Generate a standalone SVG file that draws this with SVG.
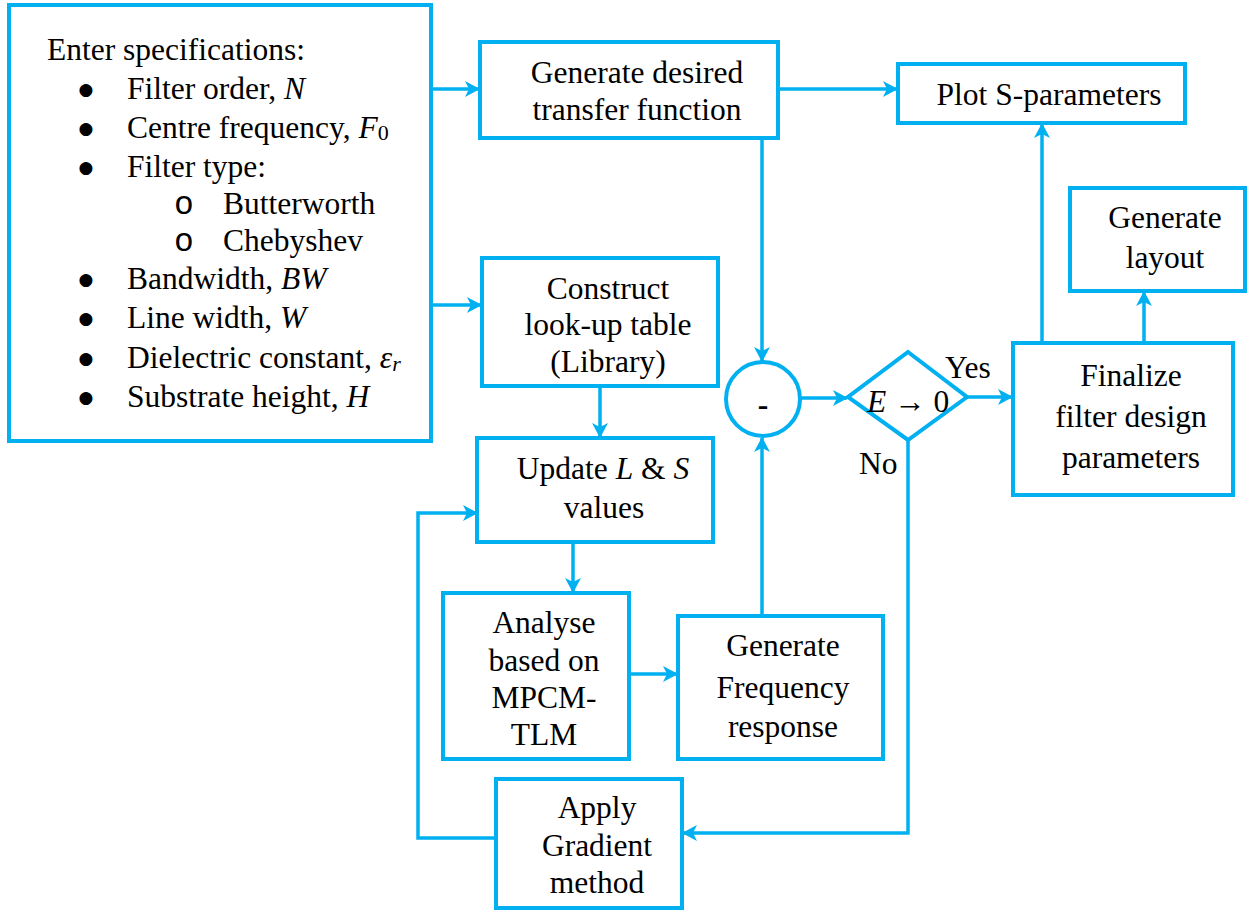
<svg xmlns="http://www.w3.org/2000/svg" width="1252" height="912" viewBox="0 0 1252 912" font-family="'Liberation Serif', 'DejaVu Serif', serif">
<style>
.box{fill:#fff;stroke:#00B0F0;stroke-width:4}
.ln{fill:none;stroke:#00B0F0;stroke-width:3.5}
.arr{marker-end:url(#ah)}
text{font-family:'Liberation Serif','DejaVu Serif',serif;font-size:31.5px;fill:#000}
.c{text-anchor:middle}
.i{font-style:italic}
.b{font-family:'DejaVu Sans',sans-serif;font-size:17px}
.o{font-family:'Liberation Mono','DejaVu Sans Mono',monospace;font-size:33px}
</style>
<defs>
<marker id="ah" markerUnits="userSpaceOnUse" markerWidth="15" markerHeight="16" viewBox="0 0 15 16" refX="14" refY="8" orient="auto">
<path d="M0,0 L15,8 L0,16 L4,8 z" fill="#00B0F0"/>
</marker>
</defs>
<rect width="1252" height="912" fill="#fff"/>
<g id="connectors">
<path class="ln arr" d="M431,89 H479"/>
<path class="ln arr" d="M431,305 H481"/>
<path class="ln arr" d="M778,89 H897"/>
<path class="ln arr" d="M762,138 V361"/>
<path class="ln arr" d="M600,386 V437"/>
<path class="ln arr" d="M573,542 V592"/>
<path class="ln arr" d="M629,674 H677"/>
<path class="ln arr" d="M762,616 V438"/>
<path class="ln arr" d="M800,398 H847"/>
<path class="ln arr" d="M967,397 H1012"/>
<path class="ln arr" d="M908,440 V833 H683"/>
<path class="ln arr" d="M496,838 H418 V513 H477"/>
<path class="ln arr" d="M1042,343 V124"/>
<path class="ln arr" d="M1144,343 V292"/>
</g>
<g id="specs">
<rect class="box" x="9" y="5" width="422" height="436"/>
<text x="47" y="60">Enter specifications:</text>
<text x="86" y="95" class="c b">●</text><text x="127" y="99">Filter order, <tspan class="i">N</tspan></text>
<text x="86" y="134" class="c b">●</text><text x="127" y="138">Centre frequency, <tspan class="i">F</tspan><tspan font-size="22" dy="2">0</tspan></text>
<text x="86" y="173" class="c b">●</text><text x="127" y="177">Filter type:</text>
<text x="184" y="214" class="c o">o</text><text x="223" y="214">Butterworth</text>
<text x="184" y="251" class="c o">o</text><text x="223" y="251">Chebyshev</text>
<text x="86" y="285" class="c b">●</text><text x="127" y="289">Bandwidth, <tspan class="i">BW</tspan></text>
<text x="86" y="324" class="c b">●</text><text x="127" y="328">Line width, <tspan class="i">W</tspan></text>
<text x="86" y="364" class="c b">●</text><text x="127" y="368">Dielectric constant, <tspan class="i">ε</tspan><tspan class="i" font-size="22" dy="3">r</tspan></text>
<text x="86" y="403" class="c b">●</text><text x="127" y="407">Substrate height, <tspan class="i">H</tspan></text>
</g>
<g id="gen-tf">
<rect class="box" x="480" y="42" width="298" height="96"/>
<text x="637" y="83" class="c">Generate desired</text>
<text x="637" y="120" class="c">transfer function</text>
</g>
<g id="plot-s">
<rect class="box" x="898" y="64" width="287" height="59"/>
<text x="1049" y="105" class="c">Plot S-parameters</text>
</g>
<g id="construct">
<rect class="box" x="482" y="258" width="236" height="128"/>
<text x="608" y="299" class="c">Construct</text>
<text x="608" y="335" class="c">look-up table</text>
<text x="608" y="372" class="c">(Library)</text>
</g>
<g id="update">
<rect class="box" x="477" y="438" width="236" height="104"/>
<text x="603" y="479" class="c">Update <tspan class="i">L</tspan> &amp; <tspan class="i">S</tspan></text>
<text x="604" y="518" class="c">values</text>
</g>
<g id="analyse">
<rect class="box" x="443" y="593" width="186" height="166"/>
<text x="544" y="633" class="c">Analyse</text>
<text x="544" y="671" class="c">based on</text>
<text x="544" y="708" class="c">MPCM-</text>
<text x="544" y="745" class="c">TLM</text>
</g>
<g id="gen-freq">
<rect class="box" x="678" y="616" width="205" height="143"/>
<text x="783" y="656" class="c">Generate</text>
<text x="783" y="698" class="c">Frequency</text>
<text x="783" y="737" class="c">response</text>
</g>
<g id="apply">
<rect class="box" x="496" y="779" width="186" height="129"/>
<text x="597" y="818" class="c">Apply</text>
<text x="597" y="856" class="c">Gradient</text>
<text x="597" y="893" class="c">method</text>
</g>
<g id="subtract">
<circle cx="763" cy="399" r="37" fill="#fff" stroke="#00B0F0" stroke-width="4"/>
<text x="763" y="415" class="c" font-weight="bold">-</text>
</g>
<g id="decision">
<polygon points="908,352 967,397 908,440 848,397" fill="#fff" stroke="#00B0F0" stroke-width="4"/>
<text x="867" y="412"><tspan class="i">E</tspan> → 0</text>
<text x="945" y="378">Yes</text>
<text x="859" y="474">No</text>
</g>
<g id="finalize">
<rect class="box" x="1013" y="343" width="220" height="152"/>
<text x="1131" y="386" class="c">Finalize</text>
<text x="1131" y="427" class="c">filter design</text>
<text x="1131" y="468" class="c">parameters</text>
</g>
<g id="layout">
<rect class="box" x="1070" y="188" width="175" height="103"/>
<text x="1165" y="228" class="c">Generate</text>
<text x="1165" y="268" class="c">layout</text>
</g>
</svg>
